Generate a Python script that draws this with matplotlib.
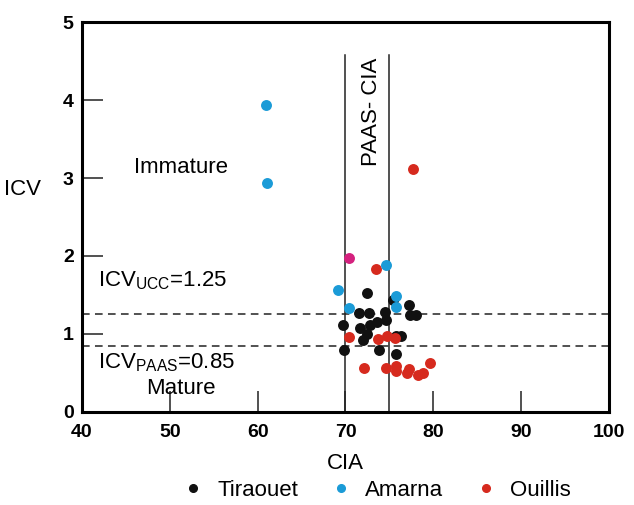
import matplotlib
matplotlib.use('Agg')
import matplotlib.pyplot as plt
from matplotlib.lines import Line2D

plt.rcParams['font.family'] = ['Liberation Sans', 'DejaVu Sans']

# CIA (x) / ICV (y)
tiraouet_cia = [72.5, 75.4, 77.2, 71.5, 72.7, 74.5, 77.3, 78.0, 69.7, 73.6,
                74.6, 72.8, 71.6, 72.4, 75.7, 76.3, 72.0, 69.8, 73.8, 75.7]
tiraouet_icv = [1.52, 1.44, 1.37, 1.27, 1.27, 1.28, 1.24, 1.24, 1.11, 1.16,
                1.18, 1.12, 1.08, 1.00, 0.97, 0.97, 0.92, 0.79, 0.79, 0.74]

amarna_cia = [61.0, 61.1, 74.6, 69.1, 75.8, 75.8, 70.4]
amarna_icv = [3.94, 2.94, 1.88, 1.57, 1.49, 1.35, 1.33]

ouillis_cia = [77.7, 73.5, 70.4, 73.7, 74.7, 75.6, 72.1, 74.6, 75.7, 75.8,
               77.2, 77.0, 78.3, 78.8, 79.6]
ouillis_icv = [3.12, 1.83, 0.96, 0.94, 0.97, 0.95, 0.56, 0.57, 0.59, 0.53,
               0.55, 0.50, 0.48, 0.50, 0.63]

# overlapping sample drawn in magenta
mixed_cia = [70.4]
mixed_icv = [1.98]

x_ticks = [40, 50, 60, 70, 80, 90, 100]
y_ticks = [0, 1, 2, 3, 4, 5]
cia_limits = [70, 75]
icv_ucc = 1.25
icv_paas = 0.85

c_black = '#111111'
c_blue = '#1b9bd7'
c_red = '#d62a1e'
c_mag = '#d4217e'

fig = plt.figure(figsize=(6.34, 5.05), dpi=100)
ax = fig.add_axes([0.1293, 0.1842, 0.8313, 0.7722])

ax.set_xlim(40, 100)
ax.set_ylim(0, 5)

for x in cia_limits:
    ax.plot([x, x], [0, 4.58], color='#222222', lw=1.1, zorder=1)
for y in (icv_ucc, icv_paas):
    ax.axhline(y, color='#222222', lw=1.1, ls=(0, (5, 3.5)), zorder=1)

ms = 62
ax.scatter(tiraouet_cia, tiraouet_icv, s=ms, color=c_black, zorder=3, lw=0)
ax.scatter(ouillis_cia, ouillis_icv, s=ms, color=c_red, zorder=3, lw=0)
ax.scatter(amarna_cia, amarna_icv, s=ms, color=c_blue, zorder=4, lw=0)
ax.scatter(mixed_cia, mixed_icv, s=ms, color=c_mag, zorder=4, lw=0)

ax.set_xticks(x_ticks)
ax.set_yticks(y_ticks)
ax.tick_params(direction='in', length=15, width=1.1, color='#222222',
               labelsize=14, pad=9)
ax.tick_params(axis='y', pad=6)
for lab in ax.get_xticklabels() + ax.get_yticklabels():
    lab.set_fontweight('bold')
for sp in ax.spines.values():
    sp.set_linewidth(2.2)

ax.set_xlabel('CIA', fontsize=16, labelpad=8)
ax.set_ylabel('ICV', fontsize=16, rotation=0, va='center')
ax.yaxis.set_label_coords(-0.113, 0.57)

ax.text(51.3, 3.14, 'Immature', fontsize=16, ha='center', va='center')
ax.text(41.8, 1.68, r'ICV$_{\mathregular{UCC}}$=1.25', fontsize=16,
        ha='left', va='center')
ax.text(41.8, 0.63, r'ICV$_{\mathregular{PAAS}}$=0.85', fontsize=16,
        ha='left', va='center')
ax.text(51.3, 0.30, 'Mature', fontsize=16, ha='center', va='center')
ax.text(73.0, 3.85, 'PAAS- CIA', fontsize=16, rotation=90,
        ha='center', va='center')

handles = [Line2D([], [], marker='o', ls='', color=c, markersize=5.5, label=l)
           for c, l in ((c_black, 'Tiraouet'), (c_blue, 'Amarna'),
                        (c_red, 'Ouillis'))]
fig.legend(handles=handles, loc='lower center', ncol=3, frameon=False,
           fontsize=16, bbox_to_anchor=(0.585, -0.032), handletextpad=0.1,
           columnspacing=0.9)

fig.savefig('out.png', dpi=100)
